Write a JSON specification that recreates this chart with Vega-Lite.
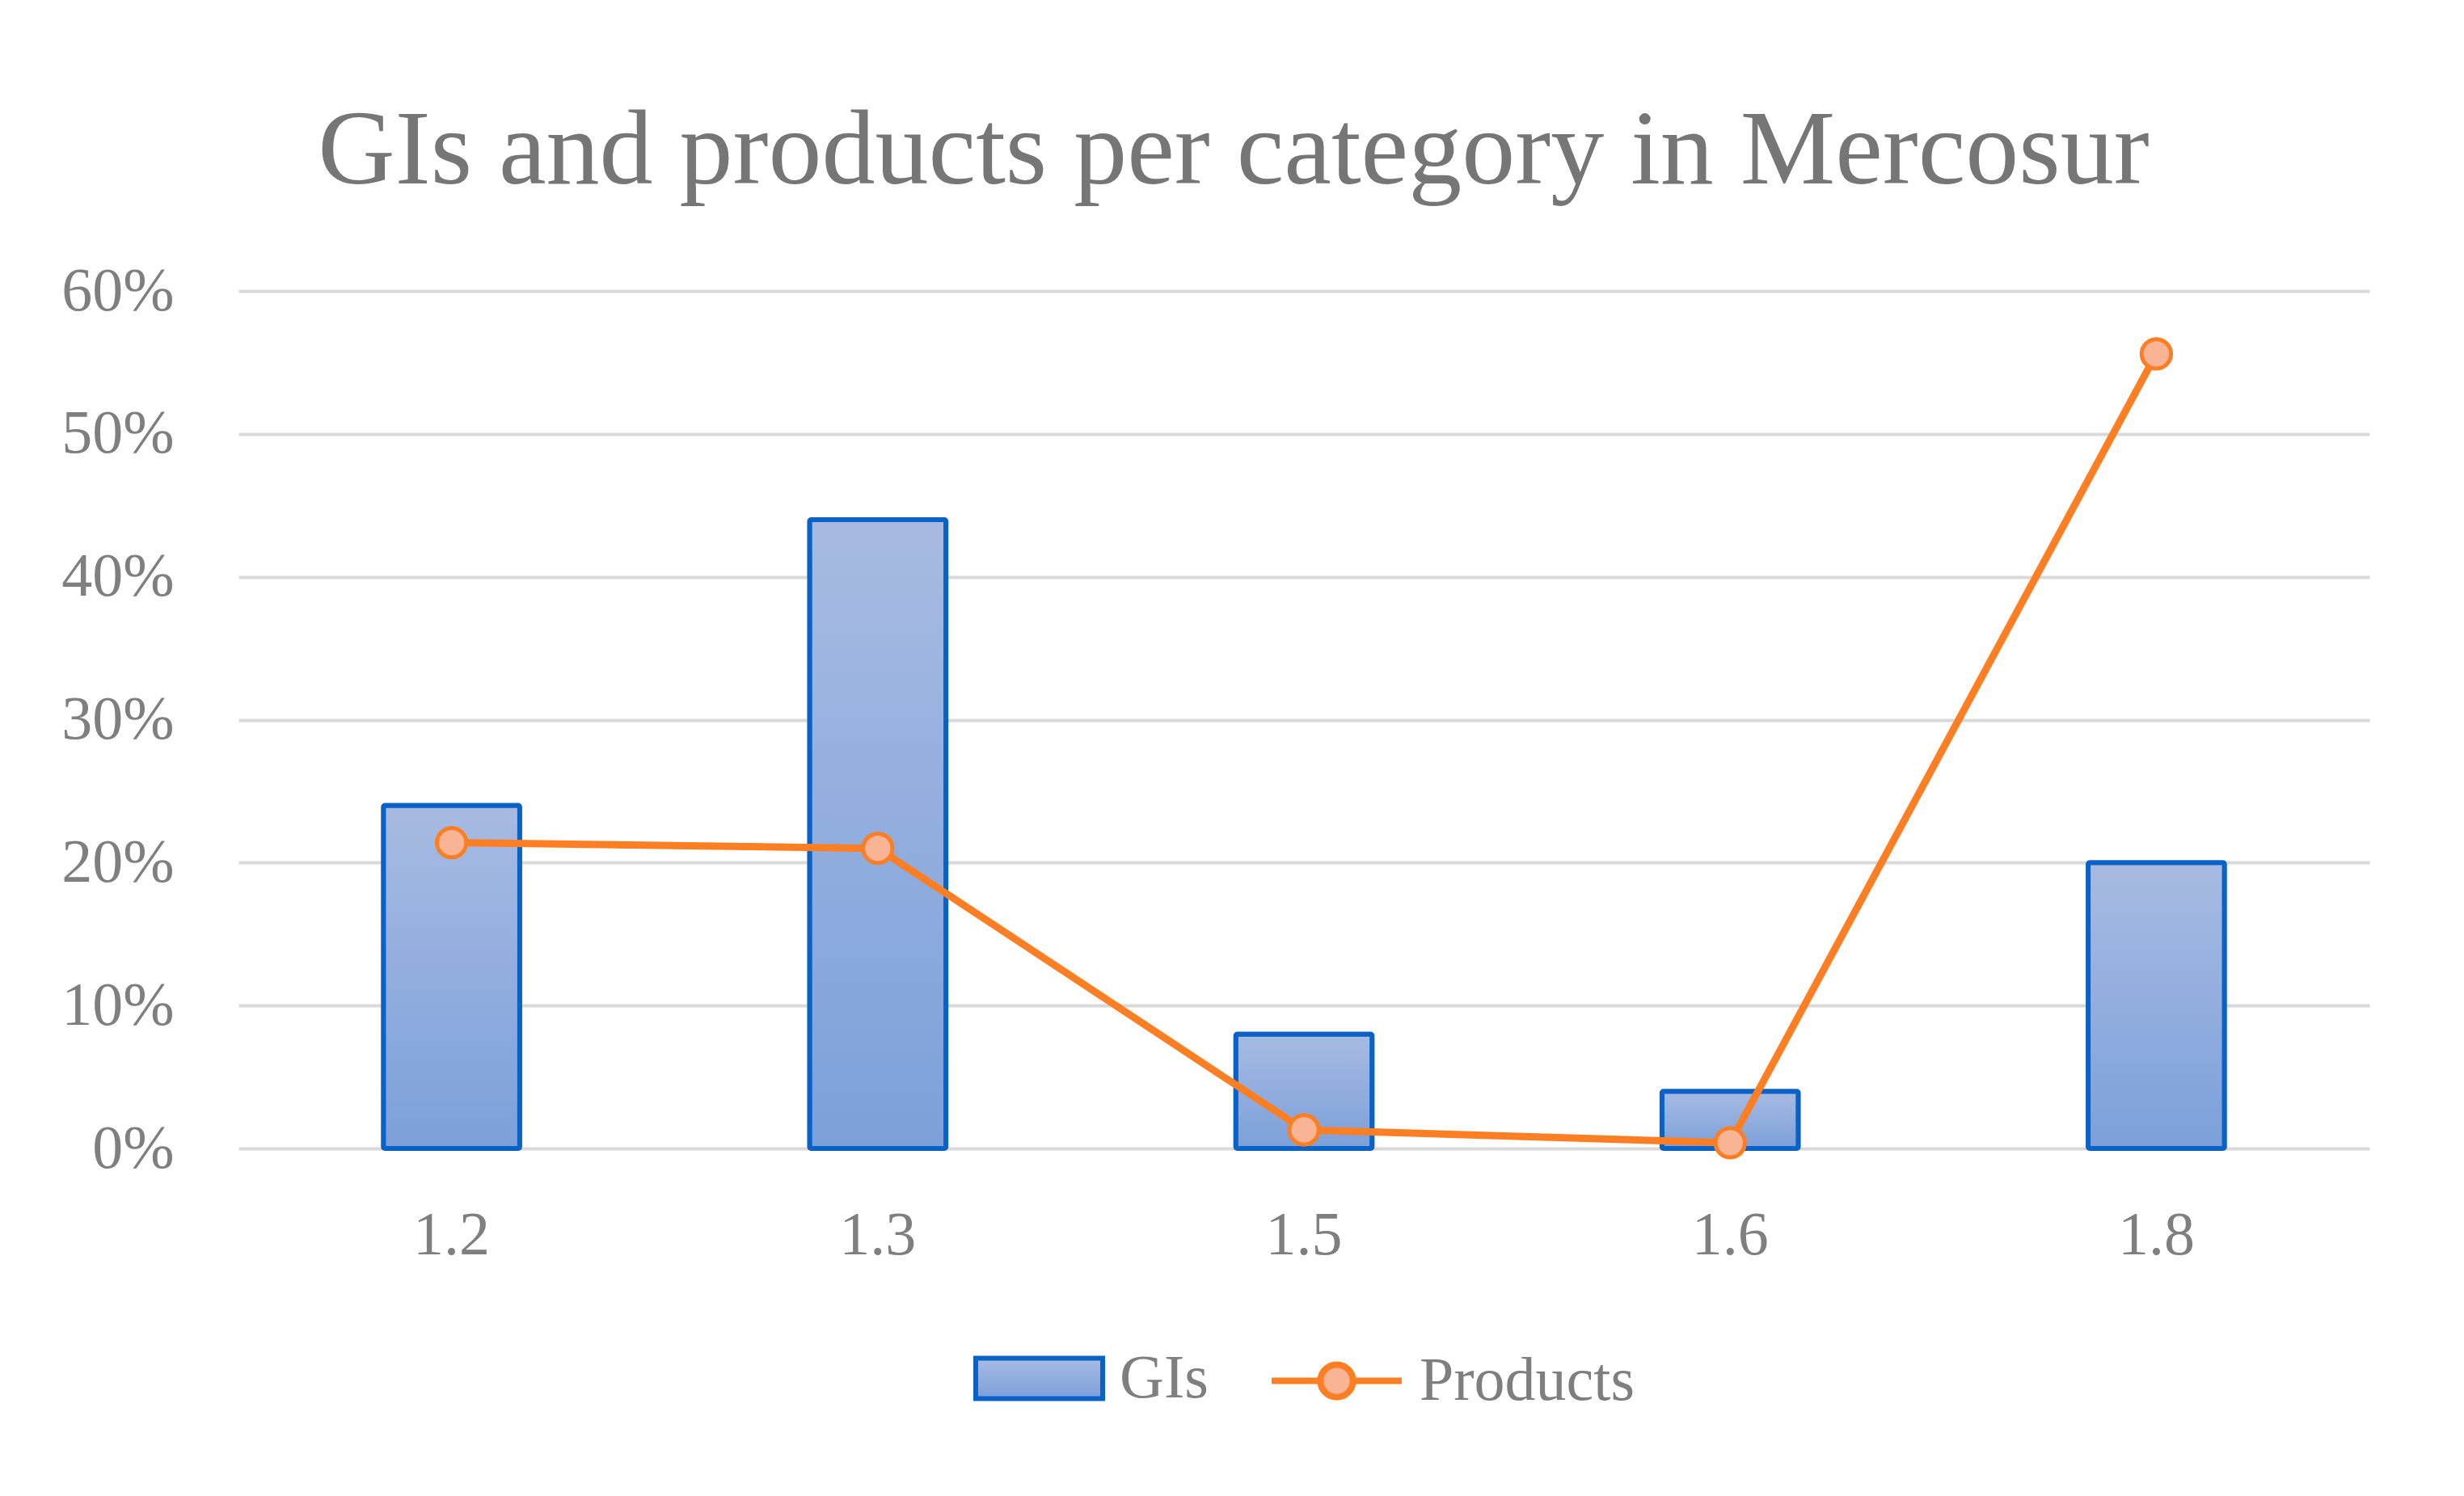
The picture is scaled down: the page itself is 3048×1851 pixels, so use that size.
{
  "$schema": "https://vega.github.io/schema/vega-lite/v6.json",
  "width": 2636,
  "height": 1061,
  "autosize": {"type": "none"},
  "padding": {"left": 295, "top": 360, "right": 117, "bottom": 430},
  "background": "white",
  "title": {
    "text": "GIs and products per category in Mercosur",
    "fontSize": 132,
    "font": "Liberation Serif",
    "fontWeight": "normal",
    "color": "#767676",
    "anchor": "middle",
    "frame": "group",
    "dx": -87,
    "offset": -37,
    "baseline": "alphabetic"
  },
  "data": {
    "values": [
      {"cat": "1.2", "gi": 0.24, "prod": 0.214},
      {"cat": "1.3", "gi": 0.44, "prod": 0.21},
      {"cat": "1.5", "gi": 0.08, "prod": 0.013},
      {"cat": "1.6", "gi": 0.04, "prod": 0.004},
      {"cat": "1.8", "gi": 0.20, "prod": 0.556}
    ]
  },
  "encoding": {
    "x": {
      "field": "cat",
      "type": "ordinal",
      "sort": null,
      "scale": {"paddingInner": 0.68, "paddingOuter": 0.34},
      "axis": {
        "title": null,
        "labelAngle": 0,
        "ticks": false,
        "domain": false,
        "grid": false,
        "labelFont": "Liberation Serif",
        "labelFontSize": 76,
        "labelColor": "#7f7f7f",
        "labelPadding": 70
      }
    }
  },
  "layer": [
    {
      "mark": {
        "type": "bar",
        "fill": {
          "gradient": "linear",
          "x1": 0, "y1": 0, "x2": 0, "y2": 1,
          "stops": [
            {"offset": 0, "color": "#a7bbe2"},
            {"offset": 1, "color": "#7ca0da"}
          ]
        },
        "strokeWidth": 6,
        "cornerRadius": 2
      },
      "encoding": {
        "y": {
          "field": "gi",
          "type": "quantitative",
          "scale": {"domain": [0, 0.6]},
          "axis": {
            "title": null,
            "format": ".0%",
            "values": [0, 0.1, 0.2, 0.3, 0.4, 0.5, 0.6],
            "grid": true,
            "gridColor": "#d9d9d9",
            "gridWidth": 4,
            "domain": false,
            "ticks": false,
            "labelFont": "Liberation Serif",
            "labelFontSize": 76,
            "labelColor": "#7f7f7f",
            "labelPadding": 80
          }
        },
        "stroke": {
          "datum": "GIs",
          "type": "nominal",
          "scale": {"range": ["#0a62c6"]},
          "legend": {
            "symbolType": "M-1,-0.32H1V0.32H-1Z",
            "symbolSize": 24649,
            "symbolStrokeWidth": 6,
            "symbolFillColor": "#9cb3df",
            "encode": {
              "symbols": {
                "update": {
                  "fill": {"value": "#9cb3df"},
                  "stroke": {"value": "#0a62c6"},
                  "strokeWidth": {"value": 6},
                  "opacity": {"value": 1}
                }
              }
            }
          }
        }
      }
    },
    {
      "mark": {"type": "line", "strokeWidth": 9},
      "encoding": {
        "y": {"field": "prod", "type": "quantitative"},
        "stroke": {
          "datum": "Products",
          "type": "nominal",
          "scale": {"range": ["#fd7e23"]},
          "legend": {
            "symbolType": "M-1,0H-0.25M0.25,0H1M0.25,0A0.25,0.25,0,1,1,-0.25,0A0.25,0.25,0,1,1,0.25,0Z",
            "symbolSize": 25921,
            "symbolStrokeWidth": 8,
            "symbolFillColor": "#f9b496",
            "encode": {
              "symbols": {
                "update": {
                  "fill": {"value": "#f9b496"},
                  "stroke": {"value": "#fd7e23"},
                  "strokeWidth": {"value": 8},
                  "opacity": {"value": 1}
                }
              }
            }
          }
        }
      }
    },
    {
      "mark": {
        "type": "point",
        "shape": "circle",
        "filled": false,
        "fill": "#f9b496",
        "fillOpacity": 1,
        "stroke": "#fd7e23",
        "strokeWidth": 5,
        "size": 1320,
        "opacity": 1
      },
      "encoding": {
        "y": {"field": "prod", "type": "quantitative"}
      }
    }
  ],
  "resolve": {
    "scale": {"stroke": "independent"},
    "legend": {"stroke": "independent"}
  },
  "config": {
    "view": {"stroke": null},
    "legend": {
      "orient": "bottom",
      "direction": "horizontal",
      "title": null,
      "labelFont": "Liberation Serif",
      "labelFontSize": 76,
      "labelColor": "#7f7f7f",
      "labelOffset": 18,
      "labelLimit": 800,
      "offset": 58,
      "layout": {
        "bottom": {"anchor": "middle", "direction": "horizontal", "margin": 74}
      }
    }
  }
}
